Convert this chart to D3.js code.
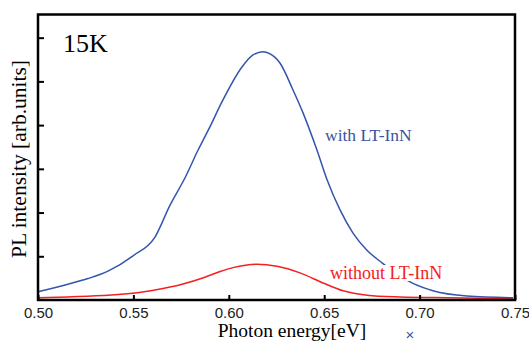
<!DOCTYPE html>
<html>
<head>
<meta charset="utf-8">
<script src="https://cdnjs.cloudflare.com/ajax/libs/d3/7.8.5/d3.min.js"></script>
<style>
  body { margin:0; background:#fff; }
  svg { display:block; }
</style>
</head>
<body>
<div class="viz"></div>
<script>
// PL spectra at 15K
var withX = [0.500,0.5157,0.5262,0.5367,0.5498,0.5613,0.5692,0.5770,0.5839,0.5901,0.5964,0.6069,0.6125,0.6179,0.6200,0.6268,0.6336,0.6389,0.6462,0.6515,0.6583,0.6651,0.6724,0.6803,0.6960,0.7070,0.7248,0.7490]
var withY = [0.19,0.36,0.49,0.66,1.01,1.44,2.17,2.79,3.43,3.96,4.53,5.33,5.60,5.68,5.66,5.42,4.81,4.28,3.43,2.75,2.06,1.53,1.14,0.85,0.39,0.21,0.09,0.05]

var withoutX = [0.500,0.5157,0.5508,0.5613,0.5755,0.5875,0.5954,0.6022,0.6148,0.6253,0.6373,0.6494,0.6599,0.6724,0.6897,0.7159,0.7490]
var withoutY = [0.05,0.07,0.16,0.23,0.36,0.52,0.65,0.74,0.82,0.77,0.62,0.39,0.21,0.11,0.07,0.05,0.03]

var xTicks = [0.50,0.55,0.60,0.65,0.70,0.75]
var yTicks = [1,2,3,4,5,6]

var width = 529, height = 345
var margin = {top:14.5, right:14, bottom:45, left:38}

var svg = d3.select(".viz").append("svg")
  .attr("width",width)
  .attr("height",height)

var x = d3.scaleLinear().domain([0.5,0.75]).range([margin.left, width-margin.right])
var y = d3.scaleLinear().domain([0,6.53]).range([height-margin.bottom, margin.top])

var serif = "'Liberation Serif','Times New Roman',serif"
var sans = "'Liberation Sans',Arial,sans-serif"

var line = d3.line()
  .x(function(d){ return x(d[0]) })
  .y(function(d){ return y(d[1]) })
  .curve(d3.curveMonotoneX)

var withData = withX.map(function(v,i){ return [v, withY[i]] })
var withoutData = withoutX.map(function(v,i){ return [v, withoutY[i]] })

svg.append("path").datum(withoutData)
  .attr("d",line).attr("fill","none")
  .attr("stroke","#f42020").attr("stroke-width",1.5)

svg.append("path").datum(withData)
  .attr("d",line).attr("fill","none")
  .attr("stroke","#3355b0").attr("stroke-width",1.5)

// frame
svg.append("rect")
  .attr("x",x(0.5)).attr("y",y(6.53))
  .attr("width",x(0.75)-x(0.5)).attr("height",y(0)-y(6.53))
  .attr("fill","none").attr("stroke","#000").attr("stroke-width",2.5)

// axes
var xAxis = svg.append("g")
  .attr("transform","translate(0,"+y(0)+")")
  .call(d3.axisBottom(x).tickValues(xTicks).tickSize(-5).tickPadding(7).tickFormat(d3.format(".2f")))
xAxis.select(".domain").remove()
xAxis.selectAll("line").attr("stroke","#000").attr("stroke-width",2)
xAxis.selectAll("text").attr("font-family",sans).attr("font-size",15).attr("fill","#222")

var yAxis = svg.append("g")
  .attr("transform","translate("+x(0.5)+",0)")
  .call(d3.axisLeft(y).tickValues(yTicks).tickSize(-6).tickFormat(""))
yAxis.select(".domain").remove()
yAxis.selectAll("line").attr("stroke","#000").attr("stroke-width",2)

// labels
svg.append("text")
  .attr("x",292).attr("y",337)
  .attr("text-anchor","middle")
  .attr("font-family",serif).attr("font-size",19.5)
  .text("Photon energy[eV]")

svg.append("text")
  .attr("transform","translate(26,159) rotate(-90)")
  .attr("text-anchor","middle")
  .attr("font-family",serif).attr("font-size",21.5)
  .text("PL intensity [arb.units]")

svg.append("text")
  .attr("x",63).attr("y",52)
  .attr("font-family",serif).attr("font-size",26)
  .text("15K")

svg.append("text")
  .attr("x",325).attr("y",141)
  .attr("font-family",serif).attr("font-size",17.5)
  .attr("fill","#3a52a4")
  .text("with LT-InN")

var wo = svg.append("g")
var woText = wo.append("text")
  .attr("x",330).attr("y",279)
  .attr("font-family",serif).attr("font-size",18)
  .attr("fill","#f42020")
  .text("without LT-InN")
var bb = woText.node().getBBox()
wo.insert("rect","text")
  .attr("x",bb.x).attr("y",bb.y+2)
  .attr("width",bb.width).attr("height",bb.height-4)
  .attr("fill","#fff")

svg.append("text")
  .attr("x",410).attr("y",340)
  .attr("text-anchor","middle")
  .attr("font-family",sans).attr("font-size",15)
  .attr("fill","#3355b0")
  .text("×")
</script>
</body>
</html>
